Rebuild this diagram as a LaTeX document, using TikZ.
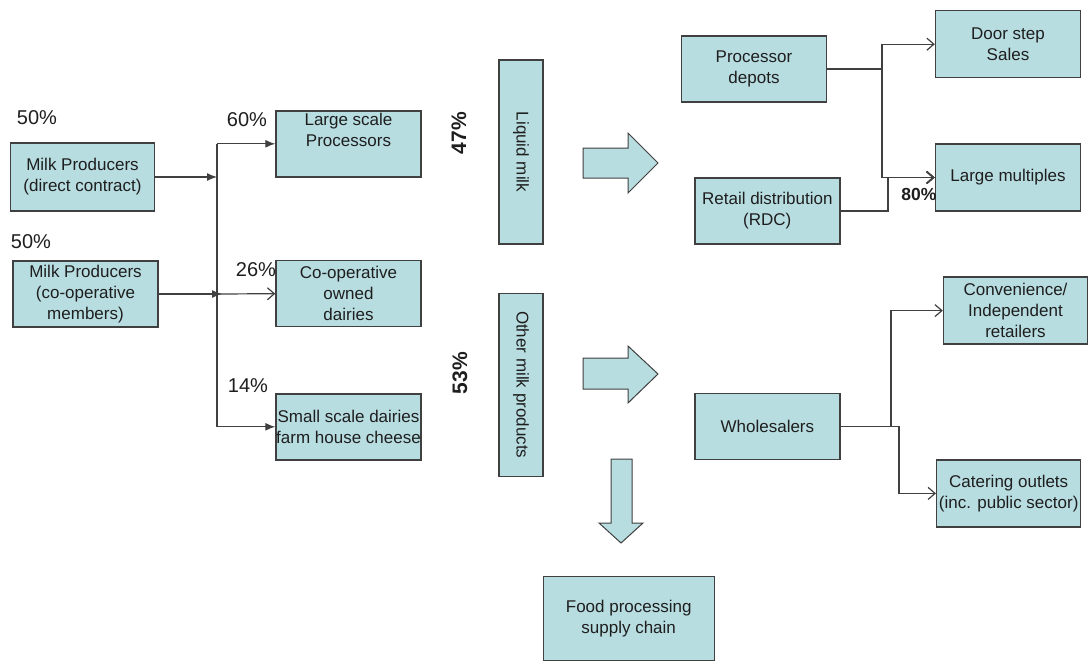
\documentclass[tikz,border=0pt]{standalone}
\usepackage{fontspec}
\setmainfont{Liberation Sans}
\usetikzlibrary{arrows.meta}

\definecolor{boxfill}{RGB}{184,221,225}
\definecolor{boxline}{RGB}{64,64,64}
\definecolor{inkc}{RGB}{30,30,30}

\tikzset{
  box/.style={draw=boxline, fill=boxfill, line width=1.4pt, text=inkc,
    minimum width=145pt, minimum height=66pt, inner sep=0pt, align=center,
    font=\fontsize{17}{21}\selectfont},
  vbox/.style={box, rotate=-90},
  pct/.style={inner sep=0pt, text=inkc, font=\fontsize{20}{24}\selectfont},
  bpct/.style={inner sep=0pt, text=inkc, font=\bfseries\fontsize{21}{24}\selectfont},
  conn/.style={draw=boxline, line width=1.2pt},
  filledtip/.style={-{Latex[length=10pt,width=8pt]}},
  opentip/.style={-{Straight Barb[length=7pt,width=12pt]}},
  blockarrow/.style={draw=boxline, fill=boxfill, line width=1pt, line join=miter}
}

\begin{document}
\begin{tikzpicture}[x=1pt,y=-1pt]
\useasboundingbox (0,0) rectangle (1088,662);

% producers
\node[box, minimum width=144pt, minimum height=68pt] (mpd) at (82.5,177) {Milk Producers\\(direct contract)};
\node[box] (mpc) at (85.5,294) {Milk Producers\\(co-operative\\members)};

% processors
\node[box] (lsp) at (348.5,143.8) {Large scale\\Processors\\\strut};
\node[box] (coop) at (348.5,293.7) {Co-operative\\owned\\dairies};
\node[box] (ssd) at (348.5,426.8) {Small scale dairies\\farm house cheese};

% product streams
\node[vbox, minimum width=184pt, minimum height=44pt] (liquid) at (521,152) {Liquid milk};
\node[vbox, minimum width=183pt, minimum height=44pt] (other) at (521,384.7) {Other milk products};

% distribution
\node[box] (pd) at (754,69) {Processor\\depots};
\node[box] (rdc) at (767.3,211) {Retail distribution\\(RDC)};
\node[box, minimum height=67pt] (ds) at (1008,44.2) {Door step\\Sales};
\node[box, minimum height=67pt] (lm) at (1008,177.5) {Large multiples};
\node[box] (ws) at (767.4,426.6) {Wholesalers};
\node[box, minimum width=144pt, minimum height=67pt] (cv) at (1015.5,310.6) {Convenience/\\Independent\\retailers};
\node[box, minimum width=144pt, minimum height=67pt] (ct) at (1008.7,493.4) {Catering outlets\\(inc. public sector)};
\node[box, minimum width=171pt, minimum height=84pt] (fps) at (628.7,618.4) {Food processing\\supply chain};

% shares
\node[pct] (s50a) at (37,118) {50\%};
\node[pct] (s50b) at (31,242) {50\%};
\node[pct] (s60) at (247,120) {60\%};
\node[pct] (s26) at (256,270) {26\%};
\node[pct] (s14) at (248,386) {14\%};
\node[bpct, rotate=90] (s47) at (459,133) {47\%};
\node[bpct, rotate=90] (s53) at (460,373) {53\%};
\node[bpct, font=\bfseries\fontsize{17.5}{21}\selectfont] (s80) at (919,194) {80\%};

% collecting bus
\coordinate (bus) at (217,0);
\draw[conn] (lsp.west -| bus) -- (ssd.west -| bus);
\draw[conn, filledtip] (mpd.east) -- (mpd.east -| bus);
\draw[conn, filledtip] (mpc.east) -- ([xshift=5pt]mpc.east -| bus);
\draw[conn, opentip] (mpc.east -| bus) -- (coop.west);
\draw[conn, filledtip] (lsp.west -| bus) -- (lsp.west);
\draw[conn, filledtip] (ssd.west -| bus) -- (ssd.west);

% block arrows
\draw[blockarrow] (583,148) -- (628,148) -- (628,133) -- (658,163) -- (628,193) -- (628,178) -- (583,178) -- cycle;
\draw[blockarrow] (583,358) -- (628,358) -- (628,346) -- (658,374) -- (628,403) -- (628,389) -- (583,389) -- cycle;
\draw[blockarrow] (611,459) -- (632,459) -- (632,523) -- (643,523) -- (621,543) -- (599,523) -- (611,523) -- cycle;

% liquid milk routes
\coordinate (jp) at (882,0);
\coordinate (jr) at (888,0);
\draw[conn] (pd.east) -- (pd.east -| jp);
\draw[conn, opentip] (pd.east -| jp) |- (ds.west);
\draw[conn, opentip] (pd.east -| jp) |- (lm.west);
\draw[conn, opentip, line width=1.8pt] (rdc.east) -- (rdc.east -| jr) |- (lm.west);

% wholesale routes
\coordinate (jw) at (891,0);
\coordinate (jc) at (899,0);
\draw[conn, opentip] (ws.east) -- (ws.east -| jw) |- (cv.west);
\draw[conn, opentip] (ws.east -| jw) -- (ws.east -| jc) |- (ct.west);
\end{tikzpicture}
\end{document}
